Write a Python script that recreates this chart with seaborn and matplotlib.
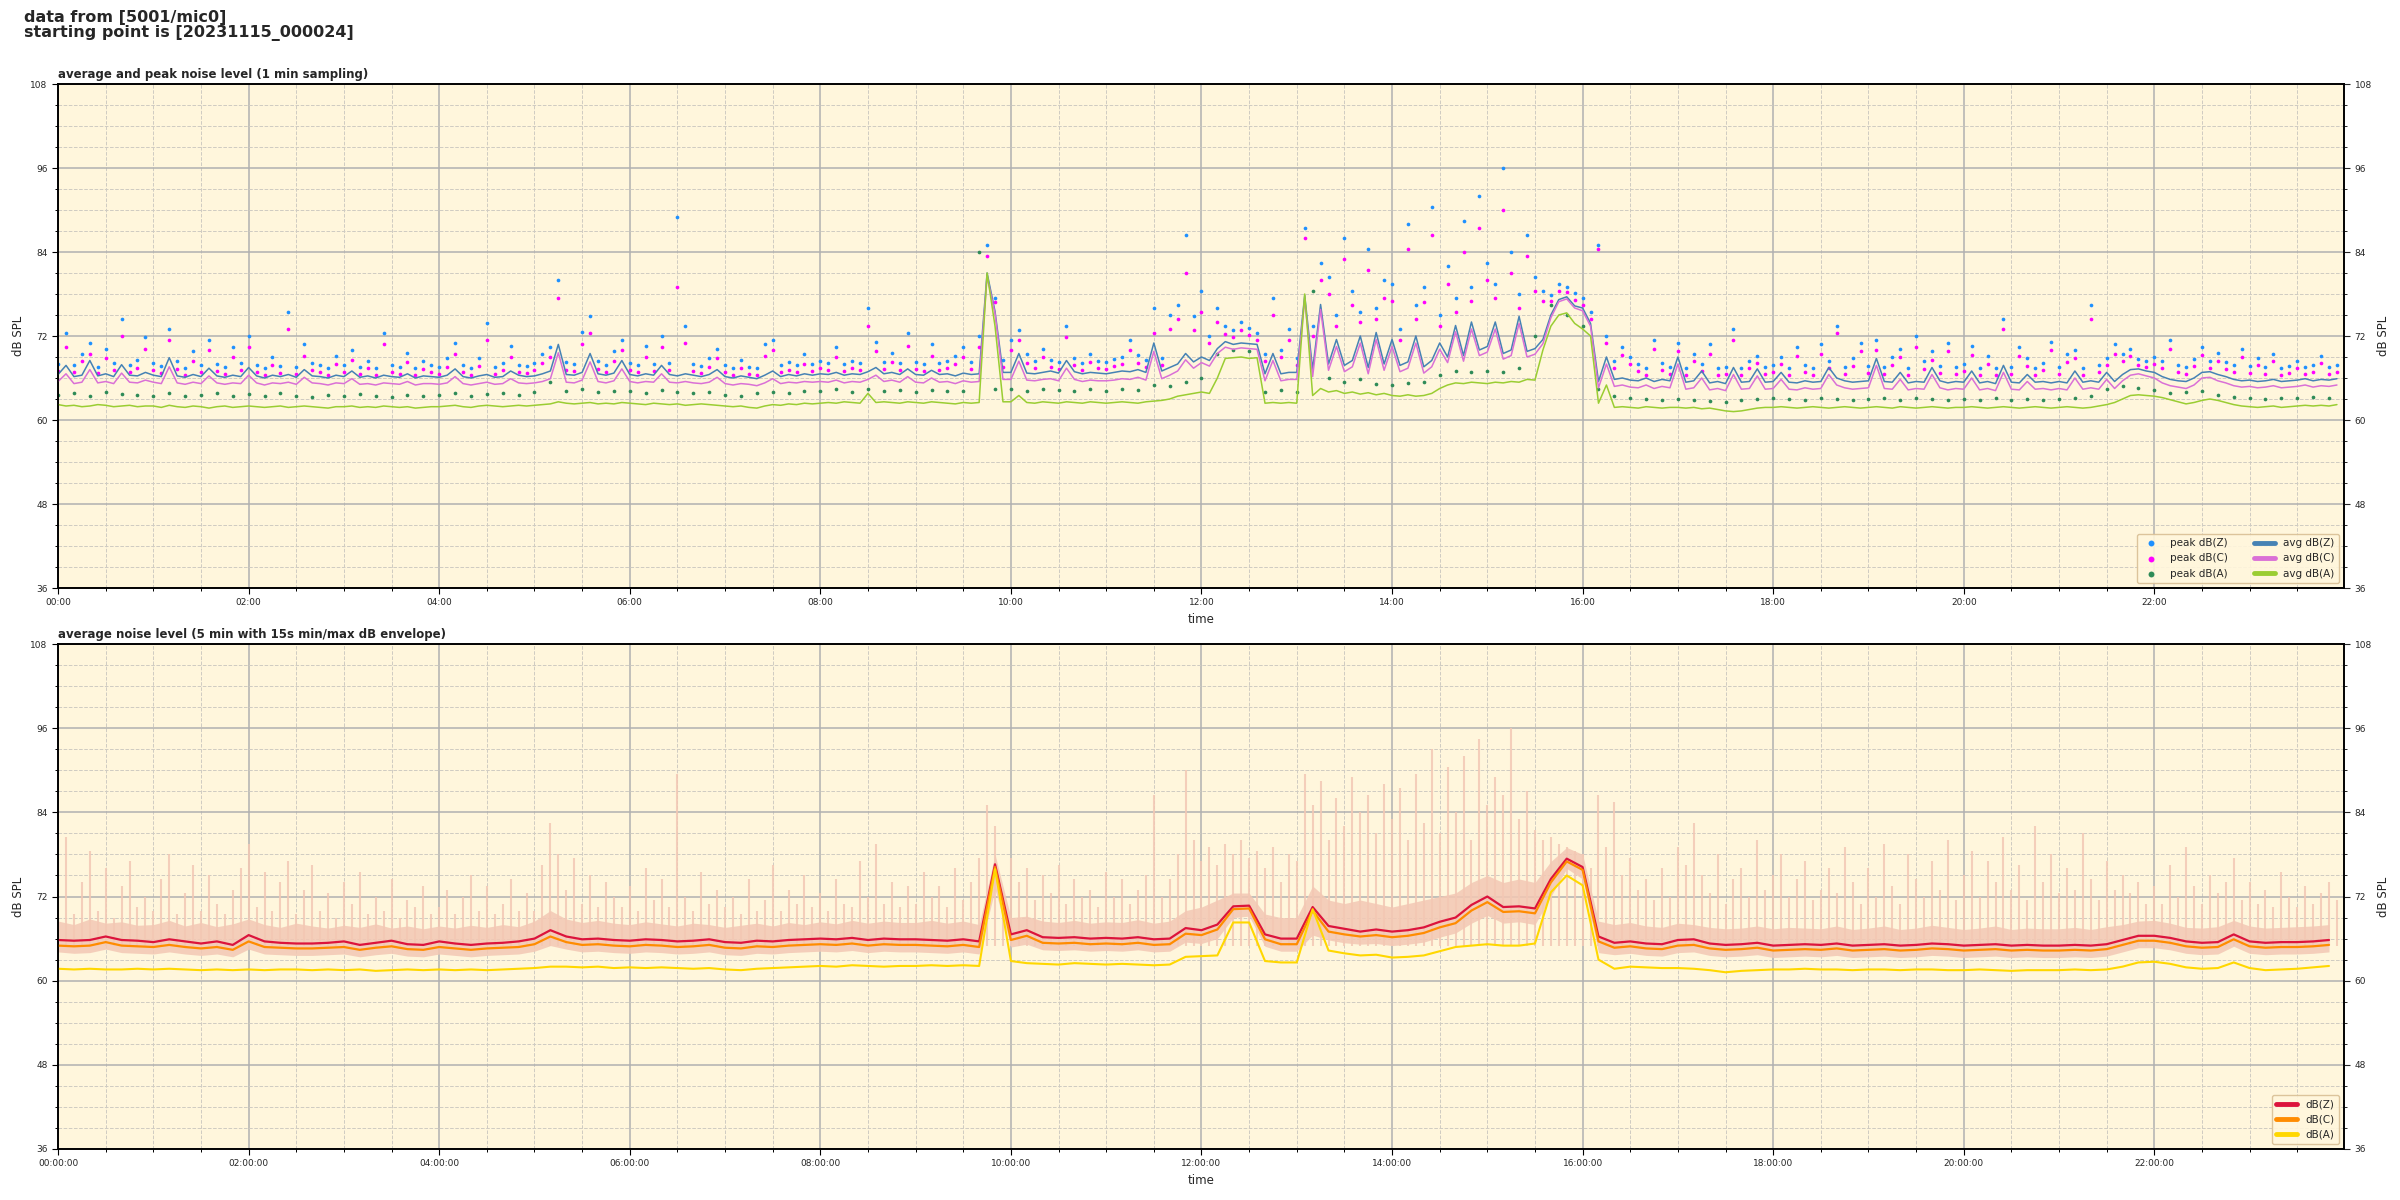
import numpy as np
import pandas as pd
import matplotlib
matplotlib.use("Agg")
import matplotlib.pyplot as plt
import matplotlib.dates as mdates
from matplotlib.ticker import MultipleLocator
import seaborn as sns

# ---- time bases -----------------------------------------------------------
t5 = pd.date_range("2023-11-15 00:00", periods=288, freq="5min")
t10 = pd.date_range("2023-11-15 00:00", periods=144, freq="10min")
day0 = pd.Timestamp("2023-11-15 00:00")
day1 = day0 + pd.Timedelta(hours=23, minutes=59, seconds=30)

# ---- top chart: 1 min sampling (read every 5 min), one row per hour --------
avg_z = [
    66.5, 67.8, 66.2, 66.4, 68.5, 66.3, 66.6, 66.2, 67.9, 66.4, 66.3, 66.8,
    66.4, 66.2, 68.9, 66.3, 66.1, 66.5, 66.2, 67.4, 66.3, 66.1, 66.4, 66.2,
    67.5, 66.3, 66.0, 66.4, 66.2, 66.5, 66.1, 67.2, 66.3, 66.2, 66.0, 66.4,
    66.2, 67.0, 66.1, 66.3, 66.0, 66.4, 66.2, 66.1, 66.6, 66.0, 66.3, 66.2,
    66.1, 66.4, 67.3, 66.2, 66.0, 66.3, 66.5, 66.1, 66.2, 67.0, 66.4, 66.2,
    66.3, 66.6, 67.0, 70.8, 66.5, 66.4, 66.8, 69.5, 66.6, 66.4, 66.7, 68.5,
    66.5, 66.3, 66.6, 66.4, 67.8, 66.5, 66.3, 66.6, 66.4, 66.2, 66.5, 67.2,
    66.2, 66.0, 66.3, 66.1, 65.9, 66.4, 67.0, 66.2, 66.5, 66.3, 66.6, 66.4,
    66.6, 66.5, 66.8, 66.4, 66.6, 66.5, 66.9, 67.5, 66.6, 66.8, 66.5, 67.3,
    66.5, 66.4, 67.1, 66.5, 66.6, 66.3, 66.7, 66.5, 66.6, 81.0, 75.5, 66.8,
    66.8, 69.5, 66.7, 66.6, 66.8, 67.0, 66.7, 68.5, 66.9, 66.6, 66.8, 66.7,
    66.6, 66.8, 67.0, 66.9, 67.2, 66.8, 71.0, 67.0, 67.5, 68.0, 69.5, 68.3,
    69.0, 68.5, 70.2, 71.2, 70.8, 71.0, 70.9, 70.8, 66.6, 69.5, 66.6, 66.8,
    66.8, 77.8, 67.2, 76.5, 68.0, 71.5, 67.8, 68.5, 72.0, 67.5, 72.5, 68.0,
    71.5, 67.8, 68.3, 72.0, 67.6, 68.5, 71.0, 69.0, 73.5, 69.2, 74.0, 70.0,
    70.5, 74.0, 69.5, 70.0, 74.8, 69.8, 70.2, 71.5, 75.0, 77.2, 77.6, 76.3,
    76.0, 73.8, 65.5, 69.0, 65.8, 66.0, 65.7, 65.6, 66.0, 65.5, 65.8, 65.6,
    69.0, 65.4, 65.6, 67.0, 65.3, 65.5, 65.2, 67.5, 65.4, 65.5, 67.3, 65.4,
    65.5, 66.8, 65.4, 65.3, 65.6, 65.4, 65.5, 67.5, 66.0, 65.6, 65.4, 65.5,
    65.6, 68.8, 65.5, 65.4, 66.8, 65.3, 65.5, 65.4, 67.5, 65.6, 65.3, 65.5,
    65.4, 67.0, 65.3, 65.5, 65.2, 67.8, 65.4, 65.3, 66.5, 65.4, 65.5, 65.3,
    65.5, 65.3, 67.0, 65.4, 65.6, 65.4, 66.8, 65.5, 66.5, 67.2, 67.3, 67.0,
    66.8, 66.2, 65.8, 65.6, 65.5, 66.0, 66.8, 66.9, 66.5, 66.2, 65.8, 65.6,
    65.7, 65.5, 65.6, 65.8, 65.5, 65.6, 65.7, 65.9, 65.6, 65.8, 65.7, 65.9,
]
avg_c = [
    65.5, 66.6, 65.2, 65.4, 67.2, 65.3, 65.5, 65.2, 66.7, 65.4, 65.3, 65.7,
    65.4, 65.2, 67.6, 65.3, 65.1, 65.4, 65.2, 66.3, 65.3, 65.1, 65.3, 65.2,
    66.4, 65.3, 65.0, 65.3, 65.2, 65.4, 65.1, 66.1, 65.3, 65.2, 65.0, 65.3,
    65.2, 65.9, 65.1, 65.2, 65.0, 65.3, 65.2, 65.1, 65.5, 65.0, 65.2, 65.2,
    65.1, 65.3, 66.2, 65.2, 65.0, 65.2, 65.4, 65.1, 65.2, 65.9, 65.3, 65.2,
    65.3, 65.5, 65.9, 69.6, 65.4, 65.3, 65.7, 68.3, 65.5, 65.3, 65.6, 67.3,
    65.5, 65.3, 65.5, 65.4, 66.6, 65.4, 65.3, 65.5, 65.3, 65.2, 65.4, 66.1,
    65.2, 65.0, 65.2, 65.1, 64.9, 65.3, 65.9, 65.2, 65.4, 65.3, 65.5, 65.4,
    65.5, 65.4, 65.7, 65.3, 65.5, 65.4, 65.8, 66.4, 65.5, 65.7, 65.4, 66.2,
    65.4, 65.3, 66.0, 65.4, 65.5, 65.2, 65.6, 65.4, 65.5, 80.5, 75.2, 65.8,
    65.8, 68.4, 65.7, 65.6, 65.8, 65.9, 65.6, 67.4, 65.8, 65.5, 65.7, 65.6,
    65.6, 65.7, 65.9, 65.8, 66.1, 65.7, 69.8, 65.9, 66.4, 67.0, 68.6, 67.4,
    68.2, 67.7, 69.5, 70.4, 70.1, 70.3, 70.2, 70.1, 65.6, 68.5, 65.6, 65.8,
    65.8, 77.2, 66.2, 75.8, 67.1, 70.5, 66.9, 67.6, 71.0, 66.6, 71.5, 67.1,
    70.5, 66.9, 67.4, 71.0, 66.7, 67.6, 70.1, 68.2, 72.6, 68.4, 73.0, 69.2,
    69.7, 73.0, 68.7, 69.2, 73.8, 69.0, 69.4, 70.9, 74.6, 76.9, 77.3, 76.0,
    75.6, 73.4, 64.6, 68.0, 64.8, 65.0, 64.7, 64.6, 65.0, 64.5, 64.8, 64.6,
    68.0, 64.4, 64.6, 66.0, 64.3, 64.5, 64.2, 66.5, 64.4, 64.5, 66.3, 64.4,
    64.5, 65.8, 64.4, 64.3, 64.6, 64.4, 64.5, 66.5, 65.0, 64.6, 64.4, 64.5,
    64.6, 67.8, 64.5, 64.4, 65.8, 64.3, 64.5, 64.4, 66.5, 64.6, 64.3, 64.5,
    64.4, 66.0, 64.3, 64.5, 64.2, 66.8, 64.4, 64.3, 65.5, 64.4, 64.5, 64.3,
    64.5, 64.3, 66.0, 64.4, 64.6, 64.4, 65.8, 64.5, 65.6, 66.4, 66.6, 66.3,
    66.0, 65.3, 64.9, 64.7, 64.5, 65.0, 66.0, 66.1, 65.6, 65.3, 64.9, 64.7,
    64.8, 64.6, 64.7, 64.9, 64.6, 64.7, 64.8, 65.0, 64.7, 64.9, 64.8, 65.0,
]
avg_a = [
    62.2, 62.0, 62.1, 61.9, 62.0, 62.2, 62.1, 61.9, 62.0, 62.1, 61.9, 62.0,
    62.0, 61.8, 62.1, 61.9, 61.8, 62.0, 61.9, 61.7, 61.9, 62.0, 61.8, 61.9,
    62.0, 61.9, 61.8, 61.9, 62.0, 61.8, 61.9, 62.0, 61.9, 61.8, 61.7, 61.9,
    61.9, 62.0, 61.8, 61.9, 61.8, 62.0, 61.9, 61.8, 61.9, 61.7, 61.8, 61.9,
    61.9, 62.0, 62.1, 61.9, 61.8, 62.0, 62.1, 62.0, 61.9, 62.0, 62.1, 62.0,
    62.1, 62.2, 62.3, 62.6, 62.4, 62.3, 62.4, 62.5, 62.3, 62.4, 62.3, 62.5,
    62.4, 62.3, 62.2, 62.4, 62.3, 62.2, 62.3, 62.1, 62.2, 62.3, 62.2, 62.1,
    62.0, 61.9, 62.0, 61.8, 61.7, 62.0, 62.2, 62.1, 62.3, 62.2, 62.4, 62.3,
    62.4, 62.5, 62.4, 62.6, 62.5, 62.4, 63.8, 62.5, 62.6, 62.5, 62.4, 62.6,
    62.5, 62.4, 62.6, 62.5, 62.4, 62.3, 62.5, 62.4, 62.5, 81.0, 73.4, 62.6,
    62.6, 63.5, 62.5, 62.4, 62.6, 62.5, 62.4, 62.6, 62.5, 62.4, 62.6, 62.5,
    62.4, 62.5, 62.6, 62.5, 62.4, 62.6, 62.7, 62.8, 63.0, 63.4, 63.6, 63.8,
    64.0, 63.8, 66.0, 68.8, 68.9, 69.0, 68.8, 68.9, 62.4, 62.5, 62.4, 62.5,
    62.4, 78.0, 63.5, 64.5, 64.0, 64.2, 63.8, 64.0, 63.7, 63.9, 63.6, 63.8,
    63.5, 63.4, 63.6, 63.4, 63.5, 63.8, 64.5, 65.0, 65.3, 65.2, 65.4, 65.3,
    65.2, 65.4, 65.3, 65.5, 65.4, 65.8, 65.7, 70.0, 73.4, 75.0, 75.3, 73.8,
    73.0, 72.0, 62.4, 65.0, 61.8, 61.9, 61.8, 61.7, 61.9, 61.8, 61.7, 61.8,
    61.8, 61.7, 61.8, 61.6, 61.7, 61.5, 61.3, 61.2, 61.3, 61.5, 61.7, 61.8,
    61.8, 61.9, 61.8, 61.7, 61.8, 61.9, 61.8, 61.7, 61.8, 61.9, 61.8, 61.7,
    61.8, 61.9, 61.8, 61.7, 61.9, 61.8, 61.7, 61.8, 61.9, 61.8, 61.7, 61.8,
    61.8, 61.9, 61.8, 61.7, 61.8, 61.9, 61.8, 61.7, 61.8, 61.9, 61.8, 61.7,
    61.8, 61.9, 61.8, 61.7, 61.8, 62.0, 62.2, 62.5, 63.0, 63.5, 63.6, 63.5,
    63.4, 63.2, 62.9, 62.6, 62.3, 62.5, 62.8, 63.0, 62.8, 62.5, 62.2, 62.0,
    61.9, 61.8, 61.9, 62.0, 61.8, 61.9, 62.0, 62.1, 62.0, 62.1, 62.0, 62.2,
]
peak_z = [
    68.0, 72.5, 67.8, 69.5, 71.0, 67.6, 70.2, 68.1, 74.5, 67.9, 68.6, 71.8,
    68.2, 67.7, 73.0, 68.4, 67.5, 69.8, 67.8, 71.5, 68.0, 67.6, 70.5, 68.1,
    72.0, 67.9, 67.4, 69.0, 67.7, 75.5, 67.6, 70.8, 68.2, 67.8, 67.5, 69.2,
    67.8, 70.0, 67.6, 68.5, 67.4, 72.5, 67.8, 67.6, 69.6, 67.5, 68.4, 67.8,
    67.6, 68.8, 71.0, 67.8, 67.5, 68.9, 73.8, 67.6, 68.2, 70.6, 67.9, 67.7,
    68.1, 69.5, 70.5, 80.0, 68.3, 68.0, 72.6, 74.8, 68.4, 67.9, 69.8, 71.5,
    68.2, 67.9, 70.6, 68.0, 72.0, 68.1, 89.0, 73.5, 68.0, 67.7, 68.8, 70.2,
    67.8, 67.5, 68.6, 67.6, 67.4, 70.8, 71.5, 67.8, 68.3, 67.9, 69.4, 68.0,
    68.4, 68.2, 70.5, 68.0, 68.5, 68.1, 76.0, 71.2, 68.3, 69.6, 68.2, 72.4,
    68.3, 68.0, 70.8, 68.2, 68.5, 69.2, 70.5, 68.3, 72.0, 85.0, 77.5, 68.6,
    71.5, 72.8, 69.5, 68.4, 70.2, 68.6, 68.3, 73.5, 68.8, 68.2, 69.5, 68.4,
    68.3, 68.7, 69.0, 71.5, 69.3, 68.6, 76.0, 68.9, 75.0, 76.5, 86.5, 74.8,
    78.5, 72.0, 76.0, 73.5, 72.8, 74.0, 73.2, 72.5, 69.5, 77.5, 70.0, 73.0,
    68.8, 87.5, 73.5, 82.5, 80.5, 75.0, 86.0, 78.5, 75.5, 84.5, 76.0, 80.0,
    79.5, 73.0, 88.0, 76.5, 79.0, 90.5, 75.0, 82.0, 77.5, 88.5, 79.0, 92.0,
    82.5, 79.5, 96.0, 84.0, 78.0, 86.5, 80.5, 78.5, 77.8, 79.5, 79.0, 78.2,
    77.5, 75.5, 85.0, 72.0, 68.5, 70.5, 69.0, 68.0, 67.5, 71.5, 68.2, 67.6,
    71.0, 67.5, 69.5, 68.0, 70.8, 67.4, 67.6, 73.0, 67.5, 68.5, 69.2, 67.6,
    67.8, 69.0, 67.5, 70.5, 67.9, 67.4, 70.8, 68.5, 73.5, 67.6, 68.8, 71.0,
    67.7, 71.5, 67.6, 69.0, 70.2, 67.5, 72.0, 68.4, 69.8, 67.7, 71.0, 67.6,
    68.0, 70.6, 67.5, 69.2, 67.4, 74.5, 67.6, 70.5, 68.8, 67.5, 68.2, 71.2,
    67.6, 69.5, 70.0, 67.5, 76.5, 67.8, 68.9, 70.8, 69.5, 70.2, 68.7, 68.5,
    69.0, 68.5, 71.5, 67.8, 67.6, 68.7, 70.5, 68.4, 69.6, 68.3, 67.8, 70.2,
    67.7, 68.8, 67.6, 69.5, 67.5, 67.7, 68.4, 67.6, 67.8, 69.2, 67.6, 67.8,
]
peak_c = [
    67.0, 70.5, 66.8, 68.5, 69.5, 66.7, 68.8, 67.1, 72.0, 66.9, 67.5, 70.2,
    67.2, 66.7, 71.5, 67.3, 66.5, 68.4, 66.8, 70.0, 67.0, 66.6, 69.0, 67.1,
    70.5, 66.9, 66.4, 67.8, 66.7, 73.0, 66.6, 69.2, 67.2, 66.8, 66.5, 68.0,
    66.8, 68.6, 66.6, 67.4, 66.4, 70.8, 66.8, 66.6, 68.3, 66.5, 67.3, 66.8,
    66.6, 67.6, 69.5, 66.8, 66.5, 67.7, 71.5, 66.6, 67.1, 69.0, 66.9, 66.7,
    67.1, 68.2, 69.0, 77.5, 67.2, 67.0, 70.8, 72.5, 67.3, 66.9, 68.4, 70.0,
    67.2, 66.9, 69.0, 67.0, 70.5, 67.1, 79.0, 71.0, 67.0, 66.7, 67.6, 68.8,
    66.8, 66.5, 67.4, 66.6, 66.4, 69.2, 70.0, 66.8, 67.2, 66.9, 68.0, 67.0,
    67.4, 67.2, 69.0, 67.0, 67.4, 67.1, 73.5, 69.8, 67.3, 68.3, 67.2, 70.6,
    67.3, 67.0, 69.2, 67.2, 67.5, 68.0, 69.0, 67.3, 70.5, 83.5, 76.8, 67.6,
    70.0, 71.5, 68.2, 67.4, 69.0, 67.6, 67.3, 71.8, 67.8, 67.2, 68.3, 67.4,
    67.3, 67.7, 68.0, 70.0, 68.2, 67.6, 72.5, 67.9, 73.0, 74.5, 81.0, 72.8,
    75.5, 71.0, 74.0, 72.3, 71.8, 72.8, 72.2, 71.5, 68.5, 75.0, 69.0, 71.5,
    67.8, 86.0, 72.0, 80.0, 78.0, 73.5, 83.0, 76.5, 74.0, 81.5, 74.5, 77.5,
    77.0, 71.5, 84.5, 74.5, 76.8, 86.5, 73.5, 79.5, 75.5, 84.0, 77.0, 87.5,
    80.0, 77.5, 90.0, 81.0, 76.0, 83.5, 78.5, 77.0, 77.0, 78.5, 78.3, 77.2,
    76.5, 74.5, 84.5, 71.0, 67.5, 69.3, 68.0, 67.0, 66.5, 70.2, 67.2, 66.6,
    69.8, 66.5, 68.4, 67.0, 69.5, 66.4, 66.6, 71.5, 66.5, 67.5, 68.1, 66.6,
    66.8, 68.0, 66.5, 69.2, 66.9, 66.4, 69.5, 67.4, 72.5, 66.6, 67.7, 69.8,
    66.7, 70.0, 66.6, 67.9, 69.0, 66.5, 70.5, 67.3, 68.6, 66.7, 69.8, 66.6,
    67.0, 69.3, 66.5, 68.0, 66.4, 73.0, 66.6, 69.2, 67.7, 66.5, 67.2, 70.0,
    66.6, 68.3, 68.8, 66.5, 74.5, 66.8, 67.8, 69.5, 68.4, 69.2, 67.9, 67.6,
    68.0, 67.5, 70.2, 66.8, 66.6, 67.7, 69.3, 67.4, 68.5, 67.3, 66.8, 69.0,
    66.7, 67.8, 66.6, 68.4, 66.5, 66.7, 67.4, 66.6, 66.8, 68.1, 66.6, 66.8,
]
# peak dB(A), read every 10 min
peak_a = [
    63.6, 63.8, 63.5, 64.0, 63.7, 63.6,
    63.5, 63.9, 63.4, 63.6, 63.8, 63.5,
    63.7, 63.4, 63.8, 63.5, 63.3, 63.6,
    63.5, 63.7, 63.4, 63.3, 63.6, 63.5,
    63.6, 63.8, 63.5, 63.7, 63.9, 63.6,
    64.0, 65.5, 64.1, 64.5, 64.0, 64.2,
    64.1, 63.9, 64.3, 64.0, 63.8, 64.0,
    63.6, 63.5, 63.8, 64.0, 63.9, 64.1,
    64.2, 64.5, 64.0, 64.4, 64.2, 64.3,
    64.0, 64.3, 64.1, 64.2, 84.0, 64.5,
    64.4, 64.2, 64.5, 64.3, 64.1, 64.4,
    64.2, 64.5, 64.3, 65.0, 64.8, 65.5,
    66.0, 69.5, 70.0, 69.8, 64.0, 64.3,
    64.0, 78.5, 66.0, 65.5, 65.8, 65.2,
    65.0, 65.3, 65.5, 66.5, 67.0, 66.8,
    67.0, 66.8, 67.5, 72.0, 76.5, 75.0,
    73.5, 64.5, 63.4, 63.2, 63.0, 62.9,
    63.0, 62.8, 62.7, 62.6, 62.8, 63.0,
    63.1, 63.0, 62.9, 63.2, 63.0, 62.8,
    63.0, 63.2, 62.9, 63.1, 63.0, 62.8,
    63.0, 62.9, 63.1, 62.8, 63.0, 62.9,
    63.0, 63.2, 63.5, 64.5, 64.8, 64.6,
    64.3, 63.8, 64.0, 64.2, 63.6, 63.3,
    63.1, 63.0, 63.2, 63.1, 63.3, 63.2,
]

# ---- bottom chart: 5 min averages (read every 10 min) ----------------------
lvl_z = [
    65.8, 65.7, 65.8, 66.3, 65.8, 65.7,
    65.5, 65.9, 65.6, 65.3, 65.6, 65.1,
    66.5, 65.6, 65.4, 65.3, 65.3, 65.4,
    65.6, 65.1, 65.4, 65.7, 65.2, 65.1,
    65.6, 65.3, 65.1, 65.3, 65.4, 65.6,
    66.0, 67.2, 66.3, 65.9, 66.0, 65.8,
    65.7, 65.9, 65.8, 65.6, 65.7, 65.9,
    65.5, 65.4, 65.7, 65.6, 65.8, 65.9,
    66.0, 65.9, 66.1, 65.8, 66.0, 65.9,
    65.9, 65.8, 65.7, 65.9, 65.6, 76.6,
    66.6, 67.2, 66.2, 66.1, 66.2, 66.0,
    66.1, 66.0, 66.2, 65.9, 66.0, 67.5,
    67.2, 68.0, 70.6, 70.7, 66.6, 66.0,
    66.0, 70.5, 67.8, 67.4, 67.0, 67.3,
    67.0, 67.2, 67.6, 68.4, 69.0, 70.8,
    72.0, 70.5, 70.6, 70.3, 74.5, 77.4,
    76.2, 66.3, 65.4, 65.6, 65.3, 65.2,
    65.8, 65.9, 65.3, 65.1, 65.2, 65.4,
    65.0, 65.1, 65.2, 65.1, 65.3, 65.0,
    65.1, 65.2, 65.0, 65.1, 65.3, 65.2,
    65.0, 65.1, 65.2, 65.0, 65.1, 65.0,
    65.0, 65.1, 65.0, 65.2, 65.8, 66.4,
    66.4, 66.1, 65.6, 65.4, 65.5, 66.6,
    65.6, 65.4, 65.5, 65.5, 65.6, 65.8,
]
lvl_c = [
    65.0, 64.9, 65.0, 65.5, 65.0, 64.9,
    64.8, 65.1, 64.8, 64.6, 64.8, 64.4,
    65.6, 64.8, 64.7, 64.6, 64.6, 64.7,
    64.8, 64.4, 64.7, 64.9, 64.5, 64.4,
    64.8, 64.6, 64.4, 64.6, 64.7, 64.8,
    65.2, 66.3, 65.5, 65.1, 65.2, 65.0,
    64.9, 65.1, 65.0, 64.8, 64.9, 65.1,
    64.7, 64.6, 64.9, 64.8, 65.0, 65.1,
    65.2, 65.1, 65.3, 65.0, 65.2, 65.1,
    65.1, 65.0, 64.9, 65.1, 64.8, 76.2,
    65.8, 66.4, 65.4, 65.3, 65.4, 65.2,
    65.3, 65.2, 65.4, 65.1, 65.2, 66.7,
    66.5, 67.3, 70.2, 70.3, 65.9, 65.2,
    65.2, 70.0, 67.0, 66.6, 66.3, 66.5,
    66.2, 66.4, 66.8, 67.6, 68.2, 70.0,
    71.2, 69.8, 69.9, 69.6, 74.0, 77.0,
    75.8, 65.6, 64.7, 64.9, 64.6, 64.5,
    65.0, 65.1, 64.6, 64.4, 64.5, 64.7,
    64.3, 64.4, 64.5, 64.4, 64.6, 64.3,
    64.4, 64.5, 64.3, 64.4, 64.6, 64.5,
    64.3, 64.4, 64.5, 64.3, 64.4, 64.3,
    64.3, 64.4, 64.3, 64.5, 65.1, 65.7,
    65.7, 65.4, 64.9, 64.7, 64.8, 65.9,
    64.9, 64.7, 64.8, 64.8, 64.9, 65.1,
]
lvl_a = [
    61.7, 61.6, 61.7, 61.6, 61.6, 61.7,
    61.6, 61.7, 61.6, 61.5, 61.6, 61.5,
    61.6, 61.5, 61.6, 61.6, 61.5, 61.6,
    61.5, 61.6, 61.4, 61.5, 61.6, 61.5,
    61.6, 61.5, 61.6, 61.5, 61.6, 61.7,
    61.8, 62.0, 62.0, 61.9, 62.0, 61.8,
    61.9, 61.8, 61.9, 61.8, 61.7, 61.8,
    61.6, 61.5, 61.7, 61.8, 61.9, 62.0,
    62.1, 62.0, 62.2, 62.1, 62.0, 62.1,
    62.1, 62.2, 62.1, 62.2, 62.1, 75.9,
    62.8, 62.5, 62.4, 62.3, 62.5, 62.4,
    62.3, 62.4, 62.3, 62.2, 62.3, 63.4,
    63.5, 63.6, 68.3, 68.3, 62.8, 62.6,
    62.6, 70.2, 64.3, 63.9, 63.6, 63.7,
    63.3, 63.4, 63.6, 64.2, 64.8, 65.0,
    65.2, 65.0, 65.0, 65.3, 72.6, 75.0,
    73.6, 63.0, 61.7, 62.0, 61.9, 61.8,
    61.8, 61.7, 61.5, 61.2, 61.4, 61.5,
    61.6, 61.6, 61.7, 61.6, 61.6, 61.5,
    61.6, 61.6, 61.5, 61.6, 61.6, 61.5,
    61.5, 61.6, 61.5, 61.4, 61.5, 61.5,
    61.5, 61.6, 61.5, 61.6, 62.0, 62.6,
    62.7, 62.4, 61.9, 61.7, 61.8, 62.6,
    61.8, 61.5, 61.6, 61.7, 61.9, 62.1,
]
# 15 s min/max envelope: dense band (every 10 min) and spike tops (every 5 min)
env_lo = [
    64.1, 63.9, 64.0, 64.5, 64.0, 63.9,
    63.8, 64.1, 63.8, 63.6, 63.8, 63.4,
    64.5, 63.8, 63.7, 63.6, 63.6, 63.7,
    63.8, 63.4, 63.7, 63.9, 63.5, 63.4,
    63.8, 63.6, 63.4, 63.6, 63.7, 63.8,
    64.2, 65.0, 64.5, 64.1, 64.2, 64.0,
    63.9, 64.1, 64.0, 63.8, 63.9, 64.1,
    63.7, 63.6, 63.9, 63.8, 64.0, 64.1,
    64.2, 64.1, 64.3, 64.0, 64.2, 64.1,
    64.1, 64.0, 63.9, 64.1, 63.8, 73.0,
    64.8, 65.2, 64.4, 64.3, 64.4, 64.2,
    64.3, 64.2, 64.4, 64.1, 64.2, 65.5,
    65.3, 66.0, 69.0, 69.2, 64.9, 64.2,
    64.2, 66.5, 65.8, 65.4, 65.2, 65.3,
    65.0, 65.2, 65.5, 66.2, 66.8, 68.2,
    69.3, 68.2, 68.4, 68.0, 72.0, 76.0,
    74.5, 64.0, 63.7, 63.9, 63.6, 63.5,
    64.0, 64.1, 63.6, 63.4, 63.5, 63.7,
    63.3, 63.4, 63.5, 63.4, 63.6, 63.3,
    63.4, 63.5, 63.3, 63.4, 63.6, 63.5,
    63.3, 63.4, 63.5, 63.3, 63.4, 63.3,
    63.3, 63.4, 63.3, 63.5, 64.1, 64.7,
    64.7, 64.4, 63.9, 63.7, 63.8, 64.9,
    63.9, 63.7, 63.8, 63.8, 63.9, 64.1,
]
env_mid = [
    68.5, 68.0, 68.8, 68.2, 68.4, 67.9,
    68.0, 68.6, 67.8, 68.3, 67.7, 68.1,
    68.8, 68.0, 67.6, 68.2, 67.8, 67.5,
    67.9, 67.6, 68.1, 67.5, 67.8, 67.4,
    67.8, 67.5, 67.9, 67.6, 68.0, 67.7,
    68.5, 70.0, 68.8, 68.3, 68.6, 68.2,
    68.0, 68.4, 68.1, 67.8, 68.2, 68.0,
    67.6, 67.9, 68.2, 67.8, 68.3, 68.0,
    68.4, 68.1, 68.6, 68.2, 68.5, 68.3,
    68.3, 68.6, 68.2, 68.5, 68.0, 78.0,
    69.0, 69.2, 68.5, 68.3, 68.6, 68.2,
    68.4, 68.3, 68.7, 68.2, 68.5, 70.0,
    70.5, 71.5, 72.5, 72.5, 69.5, 69.0,
    69.0, 73.5, 71.5, 71.0, 71.5, 71.0,
    70.5, 71.0, 71.5, 72.0, 72.5, 74.0,
    75.0, 74.0, 74.5, 74.0, 77.0, 79.0,
    78.0, 68.5, 68.0, 68.3, 67.8, 67.6,
    68.2, 68.0, 67.6, 67.4, 67.5, 67.8,
    67.4, 67.6, 67.5, 67.4, 67.8, 67.3,
    67.5, 67.8, 67.3, 67.5, 67.9, 67.6,
    67.3, 67.5, 67.8, 67.3, 67.5, 67.4,
    67.4, 67.6, 67.3, 67.7, 68.0, 68.5,
    68.6, 68.2, 67.6, 67.5, 67.7, 68.6,
    67.8, 67.5, 67.6, 67.7, 67.8, 68.0,
]
env_hi = [
    71.0, 80.5, 69.5, 74.0, 78.5, 70.0, 76.0, 69.0, 73.5, 77.0, 70.5, 72.0,
    70.0, 74.5, 78.0, 69.5, 72.5, 76.5, 70.0, 75.0, 71.0, 69.5, 73.0, 76.0,
    79.5, 70.5, 75.5, 70.0, 74.0, 77.0, 69.5, 73.0, 76.5, 70.0, 72.5, 69.0,
    74.0, 71.0, 75.5, 69.5, 72.0, 70.0, 74.5, 69.0, 71.5, 70.5, 73.5, 69.5,
    70.5, 73.0, 69.5, 72.0, 75.0, 70.0, 73.5, 69.5, 71.0, 74.5, 70.0, 72.5,
    70.0, 76.5, 82.5, 78.0, 73.0, 77.5, 71.0, 75.0, 70.5, 74.0, 72.0, 70.5,
    73.5, 70.0, 76.0, 71.5, 74.5, 70.5, 89.5, 72.0, 70.0, 75.5, 71.0, 73.0,
    70.5, 72.0, 69.5, 74.5, 70.0, 71.5, 76.5, 70.0, 73.0, 71.0, 75.0, 70.5,
    72.5, 70.0, 74.5, 71.0, 70.5, 77.0, 72.0, 79.5, 71.0, 74.0, 70.5, 73.5,
    71.0, 75.5, 72.0, 73.5, 70.5, 76.0, 71.5, 74.0, 77.5, 85.0, 82.0, 72.5,
    77.5, 74.0, 76.0, 71.5, 75.0, 72.5, 76.5, 71.0, 74.5, 72.0, 73.0, 70.5,
    75.5, 72.0, 74.5, 71.0, 73.0, 75.0, 86.5, 72.0, 74.5, 78.0, 90.0, 80.0,
    77.0, 79.0, 76.5, 79.5, 78.0, 80.0, 77.5, 78.5, 76.0, 79.0, 74.0, 78.0,
    77.0, 89.5, 85.0, 88.5, 80.0, 86.0, 82.0, 89.0, 84.0, 86.5, 81.0, 88.0,
    83.0, 87.5, 80.0, 89.5, 82.5, 93.0, 81.0, 90.5, 84.0, 92.0, 80.0, 94.5,
    85.0, 89.0, 86.5, 96.0, 83.0, 87.0, 81.5, 80.0, 80.5, 79.5, 79.0, 78.5,
    78.0, 76.0, 86.5, 79.0, 85.5, 75.0, 77.5, 73.0, 74.5, 71.5, 76.0, 72.0,
    79.0, 76.5, 82.5, 75.0, 72.5, 78.0, 71.0, 74.5, 76.0, 72.0, 80.0, 73.0,
    75.0, 78.0, 72.0, 74.5, 77.0, 71.5, 73.0, 76.0, 72.5, 79.0, 74.0, 71.0,
    76.0, 72.0, 79.5, 73.5, 71.0, 78.0, 74.5, 72.0, 77.0, 73.0, 80.0, 71.5,
    75.0, 78.5, 72.0, 77.0, 74.0, 80.5, 73.0, 76.5, 71.5, 82.0, 74.0, 78.0,
    72.5, 76.0, 73.0, 81.0, 74.5, 71.5, 77.0, 73.0, 75.0, 72.5, 74.0, 71.0,
    73.5, 71.0, 76.5, 72.0, 79.0, 73.5, 71.0, 75.0, 72.5, 74.0, 77.5, 71.5,
    74.0, 71.0, 73.0, 70.5, 75.5, 72.0, 70.5, 73.5, 71.0, 72.5, 74.0, 71.5,
]

# ---- styling ----------------------------------------------------------------
sns.set_theme(style="white")
plt.rcParams["font.family"] = ["DejaVu Sans"]
plt.rcParams["axes.edgecolor"] = "black"
plt.rcParams["axes.linewidth"] = 1.2

BG = "#fff6dc"
fig = plt.figure(figsize=(24, 12), dpi=100)
ax1 = fig.add_axes([0.0242, 0.51, 0.9525, 0.42])
ax2 = fig.add_axes([0.0242, 0.0425, 0.9525, 0.4208])

fig.text(0.0098, 0.992, "data from [5001/mic0]\nstarting point is [20231115_000024]",
         ha="left", va="top", fontsize=11.5, fontweight="bold", linespacing=1.0)


def style_axes(ax, fmt, title):
    ax.set_facecolor(BG)
    ax.set_xlim(day0, day1)
    ax.set_ylim(36, 108)
    ax.set_yticks(range(36, 109, 12))
    ax.yaxis.set_minor_locator(MultipleLocator(3))
    ax.xaxis.set_major_locator(mdates.HourLocator(byhour=range(0, 24, 2)))
    ax.xaxis.set_minor_locator(mdates.MinuteLocator(byminute=[0, 30]))
    ax.xaxis.set_major_formatter(mdates.DateFormatter(fmt))
    ax.grid(which="major", color="#b0b0b0", lw=1.1, ls="-")
    ax.grid(which="minor", color="#cfcbc2", lw=0.7, ls="--")
    ax.set_axisbelow(True)
    ax.tick_params(which="major", length=4, width=0.8, labelsize=6.5, bottom=True, left=True, color="black")
    ax.tick_params(which="minor", length=2.5, width=0.7, bottom=True, left=True, color="black")
    ax.set_xlabel("time", fontsize=8.5)
    ax.set_ylabel("dB SPL", fontsize=8.5)
    ax.set_title(title, loc="left", fontsize=8.5, fontweight="bold", pad=4)
    for s in ax.spines.values():
        s.set_visible(True)
    axr = ax.twinx()
    axr.set_ylim(36, 108)
    axr.set_yticks(range(36, 109, 12))
    axr.yaxis.set_minor_locator(MultipleLocator(3))
    axr.tick_params(which="major", length=4, width=0.8, labelsize=6.5, right=True)
    axr.tick_params(which="minor", length=2.5, width=0.7, right=True)
    axr.set_ylabel("dB SPL", fontsize=8.5)
    axr.grid(False)


# ---- top: peaks and 1-min averages -----------------------------------------
sns.scatterplot(x=t5, y=peak_z, s=7, color="#1e90ff", linewidth=0, ax=ax1, label="peak dB(Z)", zorder=2)
sns.scatterplot(x=t5, y=peak_c, s=7, color="#ff00ff", linewidth=0, ax=ax1, label="peak dB(C)", zorder=2)
sns.scatterplot(x=t10, y=peak_a, s=7, color="#2e8b57", linewidth=0, ax=ax1, label="peak dB(A)", zorder=2)
sns.lineplot(x=t5, y=avg_z, color="#4682b4", lw=1.1, ax=ax1, label="avg dB(Z)", zorder=3)
sns.lineplot(x=t5, y=avg_c, color="#da70d6", lw=1.1, ax=ax1, label="avg dB(C)", zorder=3)
sns.lineplot(x=t5, y=avg_a, color="#9acd32", lw=1.1, ax=ax1, label="avg dB(A)", zorder=3)
style_axes(ax1, "%H:%M", "average and peak noise level (1 min sampling)")
leg1 = ax1.legend(loc="lower right", ncol=2, fontsize=7.5, markerscale=1.6,
                  facecolor=BG, edgecolor="#d9bf94", framealpha=0.9, columnspacing=2.5)
for ln in leg1.get_lines():
    ln.set_linewidth(3.5)

# ---- bottom: 5-min averages with 15 s envelope ----------------------------
ENV = "#f3c8b4"
ax2.vlines(t5, 65.0, env_hi, color=ENV, lw=1.5, alpha=0.85, zorder=1)
ax2.fill_between(t10, env_lo, env_mid, color=ENV, alpha=0.85, lw=0, zorder=1)
sns.lineplot(x=t10, y=lvl_z, color="#dc143c", lw=1.6, ax=ax2, label="dB(Z)", zorder=3)
sns.lineplot(x=t10, y=lvl_c, color="#ff8c00", lw=1.6, ax=ax2, label="dB(C)", zorder=3)
sns.lineplot(x=t10, y=lvl_a, color="#ffd700", lw=1.5, ax=ax2, label="dB(A)", zorder=3)
style_axes(ax2, "%H:%M:%S", "average noise level (5 min with 15s min/max dB envelope)")
leg2 = ax2.legend(loc="lower right", fontsize=7.5, facecolor=BG, edgecolor="#d9bf94", framealpha=0.9)
for ln in leg2.get_lines():
    ln.set_linewidth(3.5)

fig.savefig("out.png", dpi=100)
